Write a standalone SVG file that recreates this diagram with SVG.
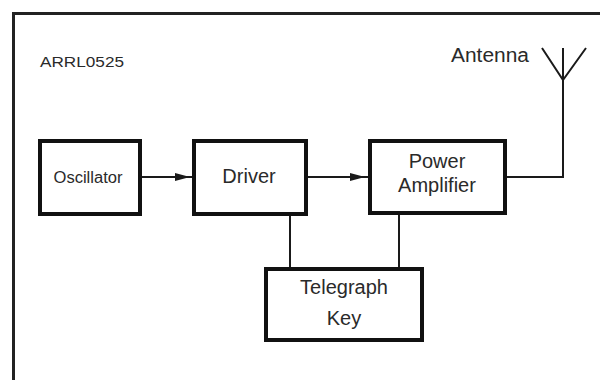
<svg xmlns="http://www.w3.org/2000/svg" width="600" height="380" viewBox="0 0 600 380">
<style>
.box{fill:#fff;stroke:#111;stroke-width:4}
.wire{fill:none;stroke:#1a1a1a;stroke-width:2}
.lbl{font-family:"Liberation Sans",Arial,sans-serif;fill:#2a2a2a;text-anchor:middle}
.arrow{fill:#1a1a1a}
</style>
<rect width="600" height="380" fill="#fff"/>
<path d="M13.5,380 V13.5 H600" fill="none" stroke="#222" stroke-width="3"/>
<text class="lbl" x="82" y="67" font-size="14" textLength="84" lengthAdjust="spacingAndGlyphs">ARRL0525</text>
<g id="connectors">
<path class="wire" d="M141,177 H192"/>
<polygon class="arrow" points="175,173 190,177 175,181"/>
<path class="wire" d="M307,177 H368"/>
<polygon class="arrow" points="350,173 365,177 350,181"/>
<path class="wire" d="M506,177 H563 V48"/>
<path class="wire" d="M542,48 L563,80 L586,48"/>
<path class="wire" d="M290,214 V267"/>
<path class="wire" d="M399,214 V267"/>
</g>
<g id="antenna-label">
<text class="lbl" x="490" y="62" font-size="20" textLength="78" lengthAdjust="spacingAndGlyphs">Antenna</text>
</g>
<g id="oscillator">
<rect class="box" x="40" y="141" width="100" height="73"/>
<text class="lbl" x="88" y="183" font-size="16" textLength="69" lengthAdjust="spacingAndGlyphs">Oscillator</text>
</g>
<g id="driver">
<rect class="box" x="194" y="141" width="112" height="73"/>
<text class="lbl" x="249" y="183" font-size="20">Driver</text>
</g>
<g id="power-amplifier">
<rect class="box" x="370" y="141" width="135" height="72"/>
<text class="lbl" x="437" y="168" font-size="20">Power</text>
<text class="lbl" x="437" y="192" font-size="20">Amplifier</text>
</g>
<g id="telegraph-key">
<rect class="box" x="266" y="269" width="156" height="71"/>
<text class="lbl" x="344" y="294" font-size="20">Telegraph</text>
<text class="lbl" x="344" y="325" font-size="20">Key</text>
</g>
</svg>
